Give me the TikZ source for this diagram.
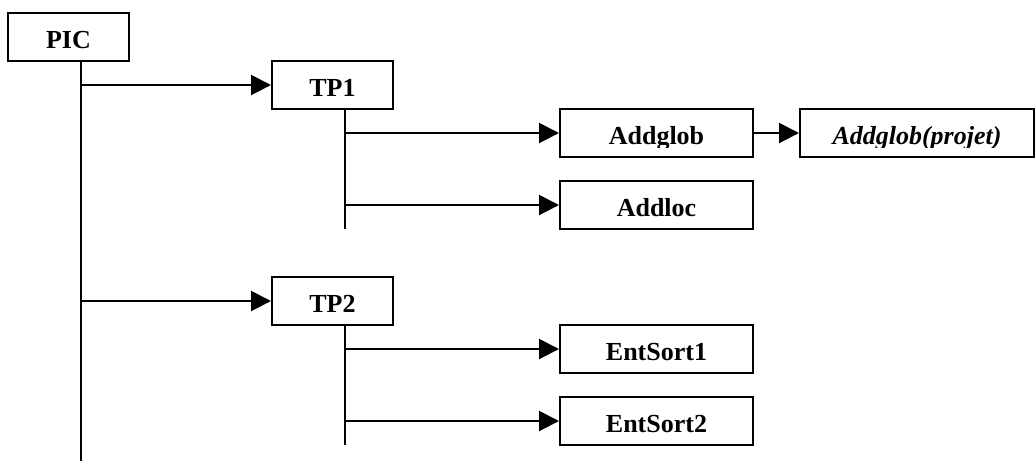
\documentclass[tikz,border=0pt]{standalone}
\usepackage{fontspec}
\setmainfont{Liberation Serif}
\usetikzlibrary{arrows.meta}
\begin{document}
\begin{tikzpicture}[x=1pt,y=-1pt,line width=2pt,
  box/.style={draw,line width=2pt,inner sep=0pt,minimum height=48pt,text height=23pt,text depth=0pt,font=\fontsize{26}{30}\selectfont\bfseries},
  lbl/.style={inner sep=0pt,text height=23pt,text depth=0pt,font=\fontsize{26}{30}\selectfont\bfseries},
  arr/.style={-{Triangle[length=20pt,width=20pt]},line width=2pt},
  ln/.style={line width=2pt}]
\useasboundingbox (0,0) rectangle (1035,461);
% boxes
\node[box,minimum width=121pt] (PIC) at (68.5,37) {PIC};
\node[box,minimum width=121pt] (TP1) at (332.5,85) {TP1};
\node[box,minimum width=193pt] (Addglob) at (656.5,133) {};
\node[box,minimum width=193pt] (Addloc) at (656.5,205) {Addloc};
\node[box,minimum width=234pt] (proj) at (917,133) {};
\node[box,minimum width=121pt] (TP2) at (332.5,301) {TP2};
\node[box,minimum width=193pt] (Ent1) at (656.5,349) {EntSort1};
\node[box,minimum width=193pt] (Ent2) at (656.5,421) {EntSort2};
% clipped labels
\begin{scope}
\clip (540,100) rectangle (1035,147);
\node[lbl] (AddglobT) at (Addglob) {Addglob};
\node[lbl,font=\fontsize{26}{30}\selectfont\bfseries\itshape] (projT) at (proj) {Addglob(projet)};
\end{scope}
% trunks
\coordinate (picEnd) at (81,461);
\coordinate (tp1End) at (345,229);
\coordinate (tp2End) at (345,445);
\draw[ln] (PIC.south -| picEnd) -- (picEnd);
\draw[ln] (TP1.south -| tp1End) -- (tp1End);
\draw[ln] (TP2.south -| tp2End) -- (tp2End);
% arrows
\draw[arr] (picEnd |- TP1.west) -- (TP1.west);
\draw[arr] (picEnd |- TP2.west) -- (TP2.west);
\draw[arr] (tp1End |- Addglob.west) -- (Addglob.west);
\draw[arr] (tp1End |- Addloc.west) -- (Addloc.west);
\draw[arr] (Addglob.east) -- (proj.west);
\draw[arr] (tp2End |- Ent1.west) -- (Ent1.west);
\draw[arr] (tp2End |- Ent2.west) -- (Ent2.west);
\end{tikzpicture}
\end{document}
